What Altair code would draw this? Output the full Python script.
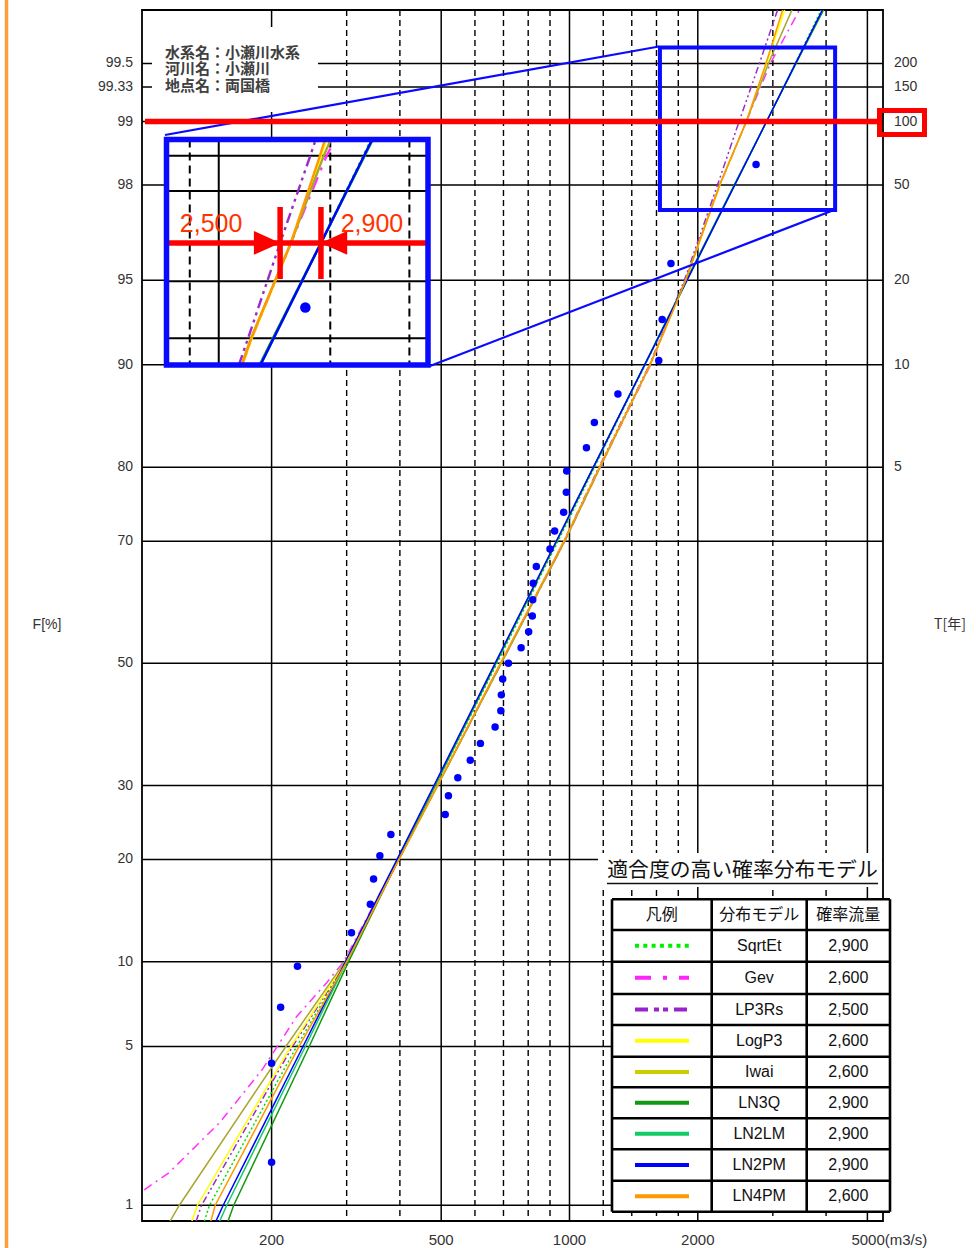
from statistics import NormalDist
import math

import altair as alt
import pandas as pd

# ---------------------------------------------------------------------------
# Observed annual peak discharges at 両国橋 (m3/s), ascending, with their
# plotting positions (non-exceedance probability, %)
# ---------------------------------------------------------------------------
OBS_Q = [200, 200, 210, 230, 308, 341, 347, 359, 381, 511, 520, 547, 585, 618,
         669, 690, 692, 697, 719, 770, 802, 818, 820, 822, 836, 900, 923, 969,
         983, 985, 1096, 1144, 1299, 1620, 1650, 1730, 2740]
OBS_F = [1.61, 4.30, 6.99, 9.68, 12.37, 15.05, 17.74, 20.43, 23.12, 25.81,
         28.49, 31.18, 33.87, 36.56, 39.25, 41.94, 44.62, 47.31, 50.00, 52.69,
         55.38, 58.06, 60.75, 63.44, 66.13, 68.82, 71.51, 74.19, 76.88, 79.57,
         82.26, 84.95, 87.63, 90.32, 93.01, 95.70, 98.39]

# ---------------------------------------------------------------------------
# Fitted distributions: discharge (m3/s) at each non-exceedance level (%).
# The 1/100 (F = 99 %) discharge of every model comes from Q100.
# ---------------------------------------------------------------------------
MODELS = ["SqrtEt", "Gev", "LP3Rs", "LogP3", "Iwai", "LN3Q", "LN2LM", "LN2PM", "LN4PM"]
Q100 = [2900, 2600, 2500, 2600, 2600, 2900, 2900, 2900, 2600]

CURVE_F = [0.83, 1, 5, 10, 20, 30, 50, 70, 80, 90, 95, 98, 99.5, 99.75]
CURVE_Q = {
    "SqrtEt": [139, 143, 229, 299, 396, 485, 676, 940, 1145, 1505, 1885, 2438, 3385, 3900],
    "LP3Rs": [133, 137, 224, 299, 398, 490, 690, 970, 1172, 1540, 1860, 2225, 2790, 3080],
    "LogP3": [130, 134, 222, 298, 398, 490, 690, 972, 1177, 1545, 1875, 2255, 2900, 3200],
    "Iwai": [115.5, 121.5, 216, 297, 398, 491, 692, 975, 1180, 1545, 1870, 2250, 2930, 3330],
    "LN3Q": [158, 163, 245, 303, 397, 484, 672, 934, 1139, 1500, 1880, 2435, 3400, 3950],
    "LN2LM": [151, 157, 240, 300, 395, 482, 670, 932, 1138, 1502, 1888, 2443, 3395, 3930],
    "LN2PM": [148, 154, 237, 298, 394, 481, 669, 931, 1137, 1501, 1887, 2442, 3393, 3926],
    "LN4PM": [144, 147.5, 232, 300, 398, 490, 688, 970, 1175, 1545, 1875, 2250, 2890, 3165],
}
GEV_F = [1.19, 1.44, 2.43, 4.05, 6.47, 8.5, 10, 20, 30, 50, 70, 80, 90, 95, 98, 99.5, 99.75]
GEV_Q = [100.5, 115, 151, 190, 229, 269, 295, 396, 490, 692, 975, 1180, 1550, 1870, 2255, 2960, 3470]

# ---------------------------------------------------------------------------
# Axes, grid and annotation values
# ---------------------------------------------------------------------------
F_TICKS = [1, 5, 10, 20, 30, 50, 70, 80, 90, 95, 98, 99, 99.333, 99.5]
F_TICK_TEXT = ["1", "5", "10", "20", "30", "50", "70", "80", "90", "95", "98",
               "99", "99.33", "99.5"]
T_TICKS = [5, 10, 20, 50, 100, 150, 200]
Q_TICKS = [200, 500, 1000, 2000]
Q_TICK_TEXT = ["200", "500", "1000", "2000"]
Q_LAST_TICK = 5000
Q_LAST_TEXT = "5000(m3/s)"
Q_GRID_SOLID = [200, 500, 1000, 2000, 5000]
Q_GRID_DASH = [300, 400, 600, 700, 800, 900, 1200, 1400, 1600, 1800, 3000, 4000]
F_RANGE = [0.833, 99.7485]
Q_RANGE = [99.3, 5440]

STATION = ["水系名：小瀬川水系", "河川名：小瀬川", "地点名：両国橋"]
TABLE_TITLE = "適合度の高い確率分布モデル"
TABLE_HEAD = ["凡例", "分布モデル", "確率流量"]

# magnified view around the 1/100 level
INSET_Q = [1654, 4280]
INSET_F = [97.60, 99.563]
INSET_GRID_SOLID_Q = [2000]
INSET_GRID_DASH_Q = [1800, 3000, 4000]
INSET_GRID_F = [98, 98.667, 99, 99.333, 99.5]
INSET_MARKS = [2500, 2900]
SOURCE_Q = [1630, 4200]
SOURCE_F = [97.42, 99.59]

# ---------------------------------------------------------------------------
# Styling / layout
# ---------------------------------------------------------------------------
STYLE = {
    "SqrtEt": dict(plot="#00e000", legend="#00ee00", dash=[2, 2.5], ldash=[4, 4.3]),
    "Gev": dict(plot="#ff33ff", legend="#ff22ff", dash=[9, 5, 2, 5], ldash=[16, 12, 4, 12]),
    "LP3Rs": dict(plot="#9a2bc8", legend="#9922cc", dash=[7, 3, 2, 3, 2, 3], ldash=[13, 6, 5, 4, 5, 6]),
    "LogP3": dict(plot="#ffff00", legend="#ffff00"),
    "Iwai": dict(plot="#a9a630", legend="#cccc00"),
    "LN3Q": dict(plot="#119911", legend="#119911"),
    "LN2LM": dict(plot="#11cc66", legend="#11cc66"),
    "LN2PM": dict(plot="#0000ff", legend="#0000ff"),
    "LN4PM": dict(plot="#ff9900", legend="#ff9900"),
}
LATIN = "Liberation Sans"
CJK = "Noto Sans CJK JP"
LABEL_C = "#333333"
BLUE = "#0a0aff"
RED = "#ff0000"
RED_TXT = "#ff3300"

W, H = 741, 1211           # plot area
OX, OY = 142, 10           # page position of the plot area's top-left corner


def rx(x):
    return x - OX


def ry(y):
    return y - OY


def zf(p):
    return NormalDist().inv_cdf(p / 100.0)


X_MAIN = alt.Scale(type="log", domain=Q_RANGE, nice=False)
Y_MAIN = alt.Scale(domain=[zf(F_RANGE[0]), zf(F_RANGE[1])], nice=False, zero=False)
X_INS = alt.Scale(type="log", domain=INSET_Q, range=[rx(166.5), rx(428)], nice=False)
Y_INS = alt.Scale(domain=[zf(INSET_F[0]), zf(INSET_F[1])], range=[ry(365), ry(139.5)],
                  nice=False, zero=False)


def xq(scale):
    return alt.X("Q:Q", scale=scale, axis=None)


def yz(scale):
    return alt.Y("z:Q", scale=scale, axis=None)


def prect(x, y, x2, y2, **kw):
    df = pd.DataFrame([{"x": rx(x), "x2": rx(x2), "y": ry(y), "y2": ry(y2)}])
    return alt.Chart(df).mark_rect(**kw).encode(
        x=alt.X("x:Q", scale=None), x2="x2:Q", y=alt.Y("y:Q", scale=None), y2="y2:Q")


def prules(segs, **kw):
    df = pd.DataFrame([{"x": rx(a), "y": ry(b), "x2": rx(c), "y2": ry(d)} for a, b, c, d in segs])
    return alt.Chart(df).mark_rule(**kw).encode(
        x=alt.X("x:Q", scale=None), x2="x2:Q", y=alt.Y("y:Q", scale=None), y2="y2:Q")


def ptexts(items, **kw):
    df = pd.DataFrame([{"x": rx(a), "y": ry(b), "t": t} for a, b, t in items])
    return alt.Chart(df).mark_text(**kw).encode(
        x=alt.X("x:Q", scale=None), y=alt.Y("y:Q", scale=None), text="t:N")


# ---------------------------------------------------------------------------
# Curve table
# ---------------------------------------------------------------------------
curve_pts = {}
for m, q100 in zip(MODELS, Q100):
    fs, qs = (GEV_F, GEV_Q) if m == "Gev" else (CURVE_F, CURVE_Q[m])
    curve_pts[m] = sorted(list(zip(fs, qs)) + [(99.0, q100)])

curves = pd.DataFrame([
    {"model": m, "k": k, "F": f, "Q": q, "z": zf(f)}
    for m in MODELS for k, (f, q) in enumerate(curve_pts[m])
])


def clip_to_box(pts, u0, u1, v0, v1):
    """Clip a polyline given in (log10 Q, z) to a rectangle (Liang-Barsky)."""
    out = []
    for (ua, va), (ub, vb) in zip(pts[:-1], pts[1:]):
        du, dv = ub - ua, vb - va
        t0, t1, ok = 0.0, 1.0, True
        for p, q in ((-du, ua - u0), (du, u1 - ua), (-dv, va - v0), (dv, v1 - va)):
            if p == 0:
                if q < 0:
                    ok = False
                    break
            else:
                t = q / p
                if p < 0:
                    t0 = max(t0, t)
                else:
                    t1 = min(t1, t)
        if not ok or t0 > t1:
            continue
        a = (ua + t0 * du, va + t0 * dv)
        b = (ua + t1 * du, va + t1 * dv)
        if not out or out[-1] != a:
            out.append(a)
        out.append(b)
    return out


box = (math.log10(INSET_Q[0]), math.log10(INSET_Q[1]), zf(INSET_F[0]), zf(INSET_F[1]))
inset_rows = []
for m in MODELS:
    uv = [(math.log10(q), zf(f)) for f, q in curve_pts[m]]
    for k, (u, v) in enumerate(clip_to_box(uv, *box)):
        inset_rows.append({"model": m, "k": k, "Q": 10 ** u, "z": v})
inset_curves = pd.DataFrame(inset_rows)

obs = pd.DataFrame({"Q": OBS_Q, "F": OBS_F})
obs["z"] = [zf(f) for f in OBS_F]
obs_in = obs[(obs.Q > INSET_Q[0]) & (obs.Q < INSET_Q[1]) &
             (obs.F > INSET_F[0]) & (obs.F < INSET_F[1])]

# ---------------------------------------------------------------------------
# Main probability plot
# ---------------------------------------------------------------------------
main_layers = []

main_layers.append(
    alt.Chart(pd.DataFrame({"Q": Q_GRID_DASH})).mark_rule(
        color="black", strokeWidth=1.4, strokeDash=[6, 4]).encode(
        x=xq(X_MAIN), y=alt.value(0), y2=alt.value(H)))
main_layers.append(
    alt.Chart(pd.DataFrame({"Q": Q_GRID_SOLID})).mark_rule(
        color="black", strokeWidth=1.5).encode(
        x=xq(X_MAIN), y=alt.value(0), y2=alt.value(H)))
main_layers.append(
    alt.Chart(pd.DataFrame({"z": [zf(f) for f in F_TICKS]})).mark_rule(
        color="black", strokeWidth=1.5).encode(
        y=yz(Y_MAIN), x=alt.value(0), x2=alt.value(W)))

for m in MODELS:
    st = STYLE[m]
    kw = dict(color=st["plot"], strokeWidth=1.5, clip=True)
    if "dash" in st:
        kw["strokeDash"] = st["dash"]
    main_layers.append(
        alt.Chart(curves[curves.model == m]).mark_line(**kw).encode(
            x=xq(X_MAIN), y=yz(Y_MAIN), order=alt.Order("k:Q")))

main_layers.append(
    alt.Chart(obs).mark_circle(size=56, color="#0000ff", opacity=1).encode(
        x=xq(X_MAIN), y=yz(Y_MAIN)))

# station box
main_layers.append(prect(152, 27, 318, 112, fill="white"))
main_layers.append(ptexts([(165, 52.5 + 16.5 * i, s) for i, s in enumerate(STATION)],
                          align="left", baseline="middle",
                          font=f"{LATIN}, {CJK}", fontSize=15,
                          fontWeight="bold", color="#404040"))

# source window of the magnified view + connector lines
main_layers.append(
    alt.Chart(pd.DataFrame([{"Q": SOURCE_Q[0], "Q2": SOURCE_Q[1],
                             "z": zf(SOURCE_F[0]), "z2": zf(SOURCE_F[1])}])).mark_rect(
        fillOpacity=0, stroke=BLUE, strokeWidth=4).encode(
        x=xq(X_MAIN), x2="Q2:Q", y=yz(Y_MAIN), y2="z2:Q"))
main_layers.append(prules([(165, 135, 659, 46.5), (430, 366, 834, 210)],
                          color=BLUE, strokeWidth=2.2))

# 1/100 line
main_layers.append(
    alt.Chart(pd.DataFrame({"z": [zf(99)]})).mark_rule(color=RED, strokeWidth=5.5).encode(
        y=yz(Y_MAIN), x=alt.value(rx(145)), x2=alt.value(rx(879))))

# axis labels
main_layers.append(
    alt.Chart(pd.DataFrame({"z": [zf(f) for f in F_TICKS], "t": F_TICK_TEXT})).mark_text(
        align="right", baseline="middle", font=LATIN, fontSize=14, color=LABEL_C).encode(
        x=alt.value(rx(133)), y=yz(Y_MAIN), text="t:N"))
main_layers.append(
    alt.Chart(pd.DataFrame({"z": [zf(100 * (1 - 1 / t)) for t in T_TICKS],
                            "t": [str(t) for t in T_TICKS]})).mark_text(
        align="left", baseline="middle", font=LATIN, fontSize=14, color=LABEL_C).encode(
        x=alt.value(rx(894)), y=yz(Y_MAIN), text="t:N"))
main_layers.append(
    alt.Chart(pd.DataFrame({"Q": Q_TICKS, "t": Q_TICK_TEXT})).mark_text(
        align="center", baseline="middle", font=LATIN, fontSize=15, color=LABEL_C).encode(
        x=xq(X_MAIN), y=alt.value(ry(1240)), text="t:N"))
main_layers.append(
    alt.Chart(pd.DataFrame({"Q": [Q_LAST_TICK], "t": [Q_LAST_TEXT]})).mark_text(
        align="left", baseline="middle", font=LATIN, fontSize=15, color=LABEL_C, dx=-16).encode(
        x=xq(X_MAIN), y=alt.value(ry(1240)), text="t:N"))
main_layers.append(ptexts([(47, 625, "F[%]")], align="center", baseline="middle",
                          font=LATIN, fontSize=14, color=LABEL_C))
main_layers.append(ptexts([(950, 625, "T[年]")], align="center", baseline="middle",
                          font=CJK, fontSize=14, color=LABEL_C))

# box around the 100-year label
main_layers.append(prect(879.5, 110.5, 924.5, 134.5, fillOpacity=0, stroke=RED, strokeWidth=5))

# page accent bar
main_layers.append(prules([(6.5, 0, 6.5, 1248)], color="#fba03e", strokeWidth=3.5))

# ---- table of well-fitting models ----
TX = [612, 711.7, 806.7, 890]
TY = [899.3, 930, 961.7, 994, 1025, 1056.7, 1087.3, 1118.3, 1149.3, 1180.7, 1211.7]

main_layers.append(prect(598, 853, 882, 887, fill="white"))
main_layers.append(ptexts([(742.5, 871, TABLE_TITLE)], align="center", baseline="middle",
                          font=CJK, fontSize=20.8, color="#111111"))
main_layers.append(prules([(607, 883.5, 878, 883.5)], color="#111111", strokeWidth=1.5))

main_layers.append(prect(TX[0], TY[0], TX[-1], TY[-1], fill="white"))
grid_segs = [(TX[0], y, TX[-1], y) for y in TY] + [(x, TY[0], x, TY[-1]) for x in TX]
main_layers.append(prules(grid_segs, color="black", strokeWidth=2.6))


def mid(a, b):
    return (a + b) / 2


main_layers.append(ptexts([(mid(TX[i], TX[i + 1]), mid(TY[0], TY[1]), h) for i, h in enumerate(TABLE_HEAD)],
                          align="center", baseline="middle", font=CJK, fontSize=16, color="#111111"))
main_layers.append(ptexts([(mid(TX[1], TX[2]), mid(TY[i + 1], TY[i + 2]), m) for i, m in enumerate(MODELS)],
                          align="center", baseline="middle", font=LATIN, fontSize=16, color="#111111"))
main_layers.append(ptexts([(mid(TX[2], TX[3]), mid(TY[i + 1], TY[i + 2]), f"{q:,}") for i, q in enumerate(Q100)],
                          align="center", baseline="middle", font=LATIN, fontSize=16, color="#111111"))
for i, m in enumerate(MODELS):
    st = STYLE[m]
    kw = dict(color=st["legend"], strokeWidth=4)
    if "ldash" in st:
        kw["strokeDash"] = st["ldash"]
    yy = mid(TY[i + 1], TY[i + 2])
    main_layers.append(prules([(635, yy, 689, yy)], **kw))

main = alt.layer(*main_layers)

# ---------------------------------------------------------------------------
# Magnified view
# ---------------------------------------------------------------------------
ins = []
ins.append(prect(166.5, 139.5, 428, 365, fill="white"))
ins.append(
    alt.Chart(pd.DataFrame({"Q": INSET_GRID_DASH_Q})).mark_rule(
        color="black", strokeWidth=2, strokeDash=[8, 5]).encode(
        x=xq(X_INS), y=alt.value(ry(139.5)), y2=alt.value(ry(365))))
ins.append(
    alt.Chart(pd.DataFrame({"Q": INSET_GRID_SOLID_Q})).mark_rule(
        color="black", strokeWidth=2).encode(
        x=xq(X_INS), y=alt.value(ry(139.5)), y2=alt.value(ry(365))))
ins.append(
    alt.Chart(pd.DataFrame({"z": [zf(f) for f in INSET_GRID_F]})).mark_rule(
        color="black", strokeWidth=2).encode(
        y=yz(Y_INS), x=alt.value(rx(166.5)), x2=alt.value(rx(428))))
for m in MODELS:
    st = STYLE[m]
    kw = dict(color=st["plot"], strokeWidth=2.4)
    if "dash" in st:
        kw["strokeDash"] = [d * 1.5 for d in st["dash"]]
    sub = inset_curves[inset_curves.model == m]
    if len(sub):
        ins.append(alt.Chart(sub).mark_line(**kw).encode(
            x=xq(X_INS), y=yz(Y_INS), order=alt.Order("k:Q")))
ins.append(alt.Chart(obs_in).mark_circle(size=110, color="#0000ff", opacity=1).encode(
    x=xq(X_INS), y=yz(Y_INS)))

# red 1/100 marker with the two bracketing discharges
ins.append(alt.Chart(pd.DataFrame({"z": [zf(99)]})).mark_rule(color=RED, strokeWidth=5.5).encode(
    y=yz(Y_INS), x=alt.value(rx(166.5)), x2=alt.value(rx(428))))
ins.append(alt.Chart(pd.DataFrame({"Q": INSET_MARKS})).mark_rule(color=RED, strokeWidth=5.5).encode(
    x=xq(X_INS), y=alt.value(ry(207)), y2=alt.value(ry(279))))
for q, shape, off, tdx in ((INSET_MARKS[0], "M-1,-0.9L1,0L-1,0.9Z", -13, -69),
                           (INSET_MARKS[1], "M1,-0.9L-1,0L1,0.9Z", 13, 51)):
    pt = pd.DataFrame({"Q": [q], "z": [zf(99)], "t": [f"{q:,}"]})
    ins.append(alt.Chart(pt).mark_point(
        shape=shape, size=700, filled=True, color=RED, opacity=1, xOffset=off).encode(
        x=xq(X_INS), y=yz(Y_INS)))
    ins.append(alt.Chart(pt).mark_text(
        align="center", baseline="middle", font=LATIN, fontSize=25, color=RED_TXT, dx=tdx).encode(
        x=xq(X_INS), y=alt.value(ry(224)), text="t:N"))
ins.append(prect(166.5, 139.5, 428, 365, fillOpacity=0, stroke=BLUE, strokeWidth=5.5))

inset = alt.layer(*ins)

chart = alt.layer(main, inset).resolve_scale(
    x="independent", y="independent"
).properties(
    width=W, height=H,
    autosize=alt.AutoSizeParams(type="none"),
    padding={"left": OX, "top": OY, "right": 976 - OX - W, "bottom": 1248 - OY - H},
).configure_view(stroke="black", strokeWidth=1.8, fill="white")

chart.save("out.html", embed_options={"renderer": "svg", "actions": False})
